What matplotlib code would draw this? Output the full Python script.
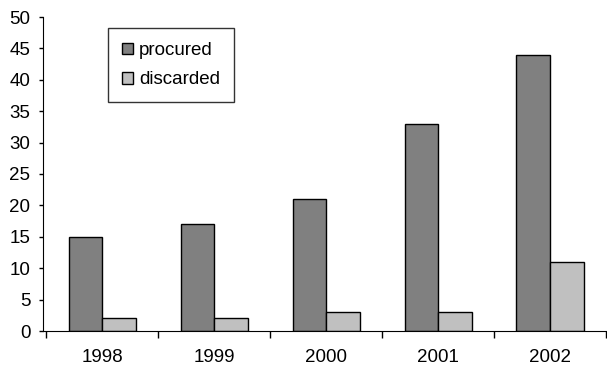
import numpy as np
import matplotlib.pyplot as plt

plt.rcParams['font.family'] = ['Liberation Sans', 'DejaVu Sans']

years = ['1998', '1999', '2000', '2001', '2002']
procured = [15, 17, 21, 33, 44]
discarded = [2, 2, 3, 3, 11]

x = np.arange(len(years))
w = 0.3

fig = plt.figure(figsize=(6.07, 3.69), dpi=100)
ax = fig.add_axes([43 / 607, 38 / 369, 563 / 607, 314 / 369])

ax.bar(x - w / 2, procured, w, color='#808080', edgecolor='black', linewidth=1, label='procured')
ax.bar(x + w / 2, discarded, w, color='#c0c0c0', edgecolor='black', linewidth=1, label='discarded')

ax.set_xlim(-0.53, len(years) - 0.5)
ax.set_ylim(0, 50)
ax.set_yticks(range(0, 51, 5))
ax.set_xticks(x)
ax.set_xticklabels(years)
ax.set_xticks(np.arange(-0.5, len(years)), minor=True)
ax.tick_params(axis='x', which='major', length=0, pad=13, labelsize=13.5)
ax.tick_params(axis='x', which='minor', length=5, direction='out', width=1)
ax.tick_params(axis='y', length=3, direction='out', width=1, pad=6, labelsize=13.5)

ax.spines['top'].set_visible(False)
ax.spines['right'].set_visible(False)

leg = ax.legend(loc='upper left', bbox_to_anchor=(108 / 607, 1 - 28 / 369),
                bbox_transform=fig.transFigure, fancybox=False, borderaxespad=0,
                edgecolor='black', fontsize=13.5, handlelength=0.6, handleheight=0.6,
                handletextpad=0.3, borderpad=0.75, labelspacing=0.65)
leg.get_frame().set_linewidth(1)

plt.savefig('out.png', dpi=100)
